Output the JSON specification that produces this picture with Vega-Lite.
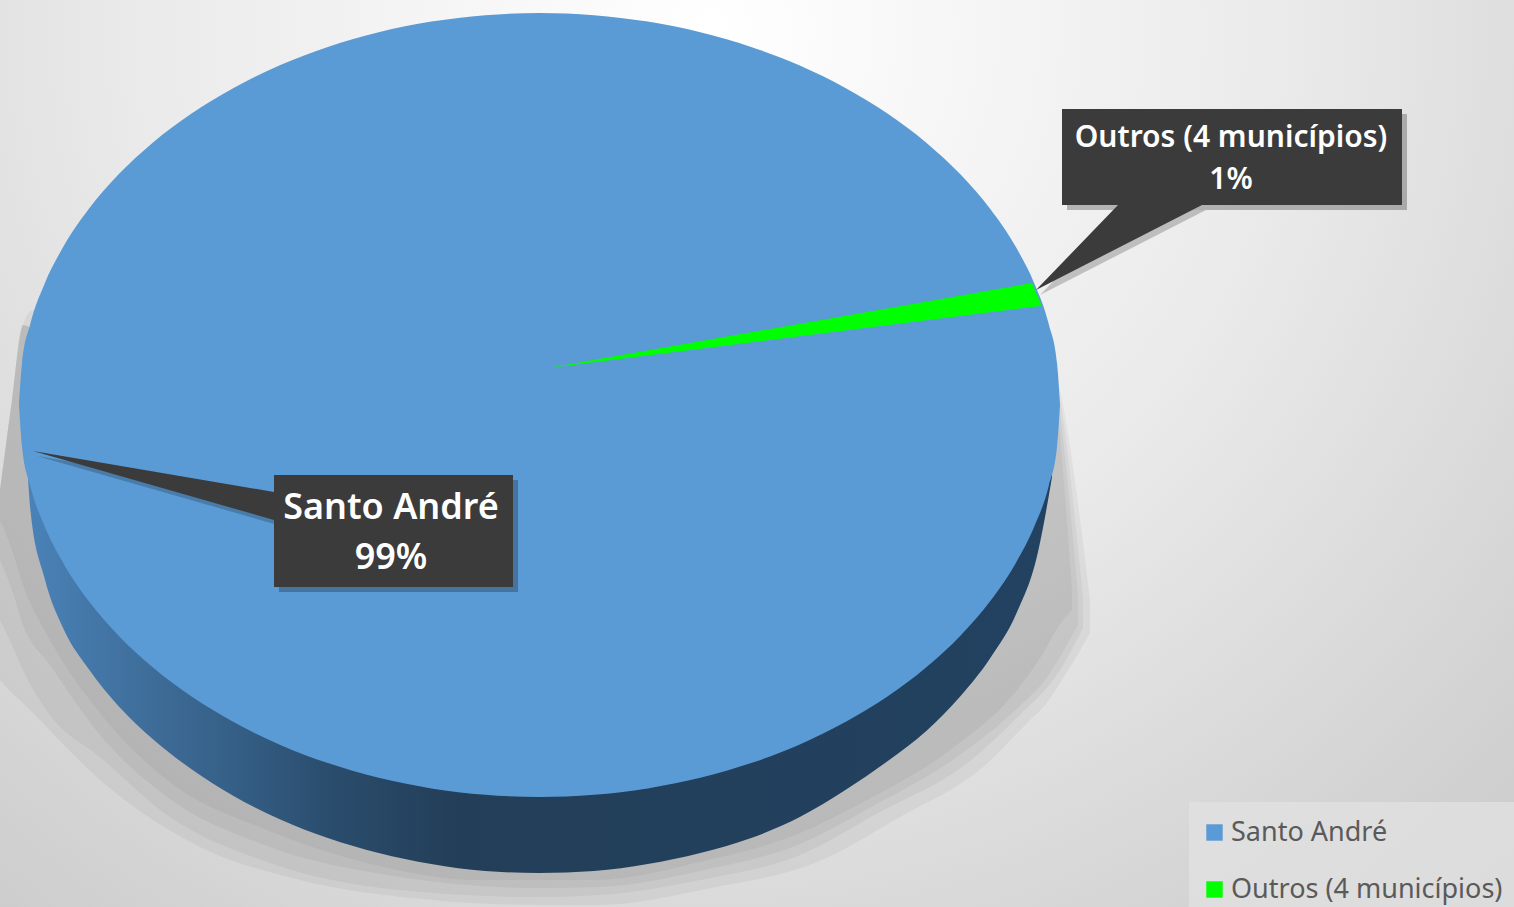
{
"$schema":"https://vega.github.io/schema/vega-lite/v6.json",
"width":1514,"height":907,"padding":0,
"autosize":{"type":"fit","contains":"padding"},
"background":"#d8d8d8",
"view":{"stroke":null,"fill":{"gradient":"radial","x1":0.47,"y1":0.22,"x2":0.47,"y2":0.22,"r1":0,"r2":0.85,"stops":[{"offset":0,"color":"#ffffff"},{"offset":0.45,"color":"#eaeaea"},{"offset":0.8,"color":"#d2d2d2"},{"offset":1,"color":"#c6c6c6"}]}},
"config":{"font":"Noto Sans"},
"encoding":{
"x":{"field":"x","type":"quantitative","scale":{"domain":[0,1514],"nice":false,"zero":false},"axis":null},
"y":{"field":"y","type":"quantitative","scale":{"domain":[907,0],"nice":false,"zero":false},"axis":null}
},
"layer":[
{"data":{"values":[{"x":0,"y":490,"y2":680},{"x":12,"y":400,"y2":693},{"x":23,"y":325,"y2":703},{"x":33,"y":310,"y2":713},{"x":100,"y":340,"y2":780},{"x":200,"y":340,"y2":847},{"x":300,"y":340,"y2":880},{"x":433,"y":340,"y2":900},{"x":540,"y":340,"y2":905},{"x":598,"y":340,"y2":905},{"x":711,"y":340,"y2":888},{"x":817,"y":340,"y2":862},{"x":900,"y":340,"y2":817},{"x":983,"y":340,"y2":767},{"x":1030,"y":340,"y2":720},{"x":1045,"y":340,"y2":705},{"x":1062,"y":400,"y2":680},{"x":1090,"y":600,"y2":633}]},
"mark":{"type":"area","color":"#444444","opacity":0.065,"interpolate":"monotone"},"encoding":{"y2":{"field":"y2"}}},
{"data":{"values":[{"x":0,"y":490,"y2":620},{"x":12,"y":400,"y2":645},{"x":23,"y":325,"y2":670},{"x":50,"y":340,"y2":715},{"x":100,"y":340,"y2":757},{"x":167,"y":340,"y2":815},{"x":267,"y":340,"y2":862},{"x":400,"y":340,"y2":890},{"x":540,"y":340,"y2":897},{"x":600,"y":340,"y2":895},{"x":700,"y":340,"y2":880},{"x":800,"y":340,"y2":855},{"x":880,"y":340,"y2":812},{"x":965,"y":340,"y2":765},{"x":1030,"y":340,"y2":705},{"x":1045,"y":340,"y2":690},{"x":1060,"y":400,"y2":670},{"x":1083,"y":598,"y2":628}]},
"mark":{"type":"area","color":"#444444","opacity":0.065,"interpolate":"monotone"},"encoding":{"y2":{"field":"y2"}}},
{"data":{"values":[{"x":0,"y":490,"y2":560},{"x":12,"y":400,"y2":590},{"x":23,"y":325,"y2":625},{"x":50,"y":340,"y2":665},{"x":100,"y":340,"y2":735},{"x":167,"y":340,"y2":797},{"x":267,"y":340,"y2":846},{"x":400,"y":340,"y2":877},{"x":540,"y":340,"y2":888},{"x":600,"y":340,"y2":887},{"x":700,"y":340,"y2":871},{"x":800,"y":340,"y2":844},{"x":873,"y":340,"y2":806},{"x":957,"y":340,"y2":757},{"x":1024,"y":340,"y2":702},{"x":1045,"y":340,"y2":680},{"x":1058,"y":400,"y2":660},{"x":1078,"y":595,"y2":625}]},
"mark":{"type":"area","color":"#444444","opacity":0.065,"interpolate":"monotone"},"encoding":{"y2":{"field":"y2"}}},
{"data":{"values":[{"x":0,"y":490,"y2":520},{"x":12,"y":400,"y2":550},{"x":23,"y":325,"y2":585},{"x":50,"y":340,"y2":640},{"x":100,"y":340,"y2":713},{"x":167,"y":340,"y2":780},{"x":267,"y":340,"y2":830},{"x":367,"y":340,"y2":863},{"x":480,"y":340,"y2":880},{"x":595,"y":340,"y2":880},{"x":700,"y":340,"y2":862},{"x":800,"y":340,"y2":833},{"x":867,"y":340,"y2":800},{"x":950,"y":340,"y2":750},{"x":1017,"y":340,"y2":690},{"x":1045,"y":340,"y2":650},{"x":1056,"y":400,"y2":630},{"x":1072,"y":590,"y2":610}]},
"mark":{"type":"area","color":"#444444","opacity":0.065,"interpolate":"monotone"},"encoding":{"y2":{"field":"y2"}}},
{"data":{"values":[{"x":28,"y":405,"y2":478},{"x":30.4,"y":405,"y2":510},{"x":44.5,"y":405,"y2":578},{"x":64,"y":405,"y2":630},{"x":88.7,"y":405,"y2":669},{"x":118.4,"y":405,"y2":706},{"x":152.7,"y":405,"y2":739},{"x":191.2,"y":405,"y2":769},{"x":233.6,"y":405,"y2":796},{"x":279.2,"y":405,"y2":819},{"x":327.8,"y":405,"y2":838},{"x":378.7,"y":405,"y2":853},{"x":431.3,"y":405,"y2":864},{"x":485.1,"y":405,"y2":871},{"x":539.5,"y":405,"y2":873},{"x":593.9,"y":405,"y2":871},{"x":647.7,"y":405,"y2":864},{"x":700.3,"y":405,"y2":853},{"x":751.2,"y":405,"y2":838},{"x":799.8,"y":405,"y2":817},{"x":845.4,"y":405,"y2":790},{"x":887.8,"y":405,"y2":761},{"x":926.3,"y":405,"y2":731},{"x":960.6,"y":405,"y2":696},{"x":990.3,"y":405,"y2":658},{"x":1017,"y":405,"y2":612},{"x":1038,"y":405,"y2":552},{"x":1048.6,"y":405,"y2":497},{"x":1052,"y":405,"y2":477}]},
"mark":{"type":"area","interpolate":"monotone","color":{"gradient":"linear","x1":0,"x2":1,"y1":0,"y2":0,"stops":[{"offset":0,"color":"#4a82b8"},{"offset":0.13,"color":"#3d6b96"},{"offset":0.2,"color":"#355f86"},{"offset":0.3,"color":"#2a4c6c"},{"offset":0.42,"color":"#233e58"},{"offset":1,"color":"#224261"}]}},"encoding":{"y2":{"field":"y2"}}},
{"data":{"values":[{"fatia":"Santo André","x":19,"y":405,"y2":405},{"fatia":"Santo André","x":21.9,"y":364,"y2":446},{"fatia":"Santo André","x":30.4,"y":323.5,"y2":486.5},{"fatia":"Santo André","x":44.5,"y":283.9,"y2":526.1},{"fatia":"Santo André","x":64,"y":245.6,"y2":564.4},{"fatia":"Santo André","x":88.7,"y":209,"y2":601},{"fatia":"Santo André","x":118.4,"y":174.6,"y2":635.4},{"fatia":"Santo André","x":152.7,"y":142.7,"y2":667.3},{"fatia":"Santo André","x":191.2,"y":113.7,"y2":696.3},{"fatia":"Santo André","x":233.6,"y":87.9,"y2":722.1},{"fatia":"Santo André","x":279.2,"y":65.5,"y2":744.5},{"fatia":"Santo André","x":327.8,"y":46.9,"y2":763.1},{"fatia":"Santo André","x":378.7,"y":32.2,"y2":777.8},{"fatia":"Santo André","x":431.3,"y":21.6,"y2":788.4},{"fatia":"Santo André","x":485.1,"y":15.2,"y2":794.8},{"fatia":"Santo André","x":539.5,"y":13,"y2":797},{"fatia":"Santo André","x":593.9,"y":15.2,"y2":794.8},{"fatia":"Santo André","x":647.7,"y":21.6,"y2":788.4},{"fatia":"Santo André","x":700.3,"y":32.2,"y2":777.8},{"fatia":"Santo André","x":751.2,"y":46.9,"y2":763.1},{"fatia":"Santo André","x":799.8,"y":65.5,"y2":744.5},{"fatia":"Santo André","x":845.4,"y":87.9,"y2":722.1},{"fatia":"Santo André","x":887.8,"y":113.7,"y2":696.3},{"fatia":"Santo André","x":926.3,"y":142.7,"y2":667.3},{"fatia":"Santo André","x":960.6,"y":174.6,"y2":635.4},{"fatia":"Santo André","x":990.3,"y":209,"y2":601},{"fatia":"Santo André","x":1015,"y":245.6,"y2":564.4},{"fatia":"Santo André","x":1034.5,"y":283.9,"y2":526.1},{"fatia":"Santo André","x":1048.6,"y":323.5,"y2":486.5},{"fatia":"Santo André","x":1057.1,"y":364,"y2":446},{"fatia":"Santo André","x":1060,"y":405,"y2":405}]},
"mark":{"type":"area","interpolate":"monotone"},
"encoding":{"y2":{"field":"y2"},"color":{"field":"fatia","type":"nominal","sort":null,"scale":{"domain":["Santo André","Outros (4 municípios)"],"range":["#5b9bd5","#00ff00"]},
"legend":{"orient":"none","legendX":1201,"legendY":819,"title":null,"symbolType":"square","symbolSize":270,"symbolStrokeWidth":0,"labelFontSize":27,"labelColor":"#5a5a5a","labelFont":"Noto Sans","labelLimit":400,"rowPadding":29,"labelOffset":3,"padding":0}}}},
{"data":{"values":[{"fatia":"Outros (4 municípios)","x":548,"y":368,"y2":368},{"fatia":"Outros (4 municípios)","x":1032,"y":283,"y2":307},{"fatia":"Outros (4 municípios)","x":1041,"y":304,"y2":306}]},
"mark":{"type":"area"},
"encoding":{"y2":{"field":"y2"},"color":{"field":"fatia","type":"nominal","sort":null}}},
{"data":{"values":[{"x":1189,"x2":1514,"y":802,"y2":907}]},"mark":{"type":"rect","color":"#e2e2e2","opacity":0.75},"encoding":{"x2":{"field":"x2"},"y2":{"field":"y2"}}},
{"data":{"values":[{"p":"a","x":37,"y":456,"y2":456},{"p":"a","x":278,"y":497,"y2":525},{"p":"b","x":1040,"y":295,"y2":295},{"p":"b","x":1122,"y":210,"y2":253},{"p":"b","x":1206,"y":210,"y2":210}]},"mark":{"type":"area","color":"#000000","opacity":0.2},"encoding":{"y2":{"field":"y2"},"detail":{"field":"p"}}},
{"data":{"values":[{"x":279,"x2":518,"y":480,"y2":592},{"x":1067,"x2":1407,"y":114,"y2":210}]},"mark":{"type":"rect","color":"#000000","opacity":0.25},"encoding":{"x2":{"field":"x2"},"y2":{"field":"y2"}}},
{"data":{"values":[{"p":"a","x":33,"y":451,"y2":451},{"p":"a","x":274,"y":492,"y2":520},{"p":"b","x":1036,"y":290,"y2":290},{"p":"b","x":1118,"y":205,"y2":248},{"p":"b","x":1202,"y":205,"y2":205}]},"mark":{"type":"area","color":"#3b3b3b"},"encoding":{"y2":{"field":"y2"},"detail":{"field":"p"}}},
{"data":{"values":[{"x":274,"x2":513,"y":475,"y2":587},{"x":1062,"x2":1402,"y":109,"y2":205}]},"mark":{"type":"rect","color":"#3b3b3b"},"encoding":{"x2":{"field":"x2"},"y2":{"field":"y2"}}},
{"data":{"values":[{"x":391,"y":519,"t":"Santo André"},{"x":391,"y":569,"t":"99%"}]},"mark":{"type":"text","color":"#ffffff","fontSize":36,"fontWeight":600,"font":"Noto Sans","baseline":"alphabetic","align":"center"},"encoding":{"text":{"field":"t"}}},
{"data":{"values":[{"x":1231,"y":147,"t":"Outros (4 municípios)"},{"x":1231,"y":189,"t":"1%"}]},"mark":{"type":"text","color":"#ffffff","fontSize":30,"fontWeight":600,"font":"Noto Sans","baseline":"alphabetic","align":"center"},"encoding":{"text":{"field":"t"}}}
]
}
